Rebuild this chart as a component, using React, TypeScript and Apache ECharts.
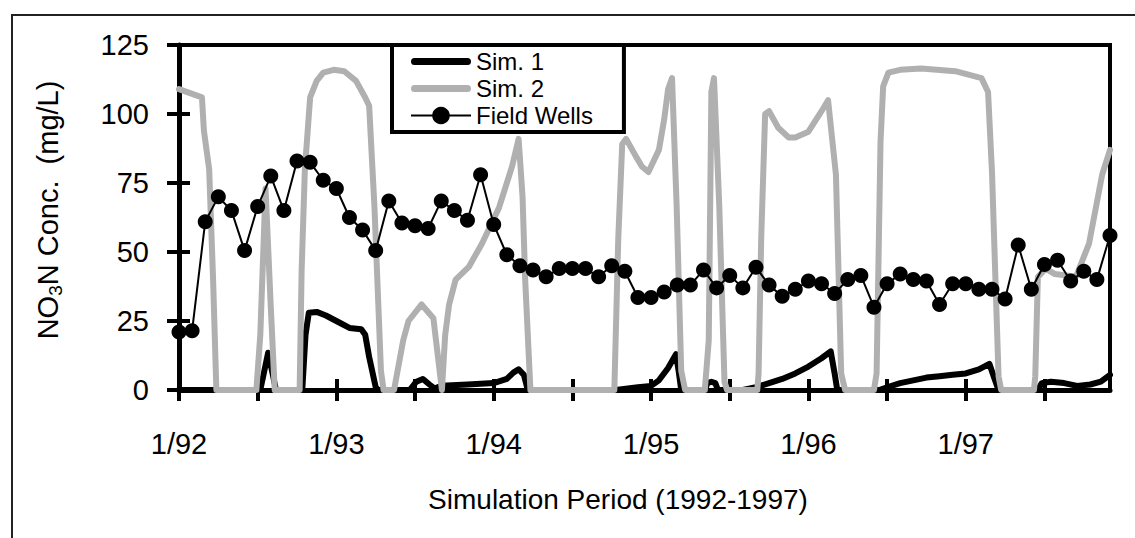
import React, { useEffect, useRef } from "react";
import * as echarts from "echarts";

// x values are months counted from January 1992 (0 = 1/92)
const xTickLabels = ["1/92", "1/93", "1/94", "1/95", "1/96", "1/97"];
const xLabelMonths = [0, 12, 24, 36, 48, 60];
const xTickMonths = [0, 6, 12, 18, 24, 30, 36, 42, 48, 54, 60, 66];

const seriesNames = ["Sim. 1", "Sim. 2", "Field Wells"];

// Field wells: one value per month, 1/92 .. 12/97
const fieldWells = [
  21, 21.5, 61, 70, 65, 50.5, 66.5, 77.5, 65, 83, 82.5, 76,
  73, 62.5, 58, 50.5, 68.5, 60.5, 59.5, 58.5, 68.5, 65, 61.5, 78,
  60, 49, 45, 43.5, 41, 44, 44, 44, 41, 45, 43, 33.5,
  33.5, 35.5, 38, 38, 43.5, 37, 41.5, 37, 44.5, 38, 34, 36.5,
  39.5, 38.5, 35, 40, 41.5, 30, 38.5, 42, 40, 39.5, 31, 38.5,
  38.5, 36.5, 36.5, 33, 52.5, 36.5, 45.5, 47, 39.5, 43, 40, 56,
];

// Simulation 1: [month, mg/L]
const sim1 = [
  [0, 0], [6.2, 0], [6.8, 13.5], [7.4, 0], [9.4, 0], [9.65, 20], [9.9, 28],
  [10.5, 28.3], [11.2, 27], [12.4, 24], [13.0, 22.5], [13.9, 22], [14.2, 20],
  [14.5, 12], [15.0, 1], [15.2, 0], [17.6, 0], [18.1, 3], [18.6, 4], [19.1, 2],
  [19.5, 0.5], [20.0, 1.5], [22, 2], [24, 2.5], [25, 4], [25.5, 6.3], [25.9, 7.5],
  [26.3, 5.5], [26.6, 0], [33.3, 0], [35, 1], [36, 1.5], [36.6, 3.5], [37.3, 8],
  [37.9, 13], [38.1, 7], [38.3, 0], [40.1, 0], [40.3, 2.5], [40.6, 3], [40.9, 2.5],
  [41.1, 0], [43, 0], [44, 1], [45, 2.5], [46, 4], [47, 6], [48, 8.5], [49, 11.5],
  [49.7, 14], [50.0, 6], [50.2, 0], [53.4, 0], [54, 1], [55, 2.5], [56, 3.5],
  [57, 4.5], [58, 5], [59, 5.5], [60, 6], [61, 7.5], [61.8, 9.5], [62.2, 4],
  [62.5, 0], [65.5, 0], [65.8, 2.5], [66.5, 3], [67.5, 2.5], [68.5, 1.5],
  [69.5, 2], [70.3, 3], [71, 5.5],
];

// Simulation 2: [month, mg/L]
const sim2 = [
  [0, 109], [1.75, 106], [1.9, 94], [2.3, 80], [2.6, 40], [2.85, 0], [5.9, 0],
  [6.2, 20], [6.6, 73], [7.0, 30], [7.3, 0], [9.2, 0], [9.35, 43], [9.6, 80],
  [10.0, 106], [10.5, 112], [11.0, 115], [11.8, 116], [12.6, 115.5], [13.5, 112],
  [14.2, 106], [14.5, 103], [14.9, 67], [15.4, 7], [15.6, 0], [16.4, 0],
  [17.1, 18], [17.5, 25], [18.5, 31], [19.4, 26], [19.8, 10], [20.05, 0],
  [20.3, 20], [20.6, 31], [21.1, 40], [22.1, 44.6], [23.1, 53], [24.4, 66],
  [25.4, 81], [25.9, 91], [26.2, 70], [26.4, 40], [26.8, 0], [33.2, 0],
  [33.5, 55], [33.8, 89], [34.1, 91], [34.8, 85], [35.3, 81], [35.8, 79],
  [36.6, 87], [37.0, 98], [37.3, 109], [37.6, 113], [37.95, 67], [38.3, 7],
  [38.6, 0], [40.1, 0], [40.4, 18], [40.6, 108], [40.8, 113], [41.2, 67],
  [41.6, 3], [41.8, 0], [44.1, 0], [44.2, 6], [44.4, 55], [44.7, 100], [45.0, 101],
  [45.7, 95], [46.5, 91.5], [47.0, 91.5], [48.0, 93.6], [49.0, 101], [49.5, 105],
  [50.1, 78], [50.5, 6], [50.8, 0], [53.0, 0], [53.2, 6], [53.5, 90], [53.7, 110],
  [54.1, 115], [55, 116], [56.6, 116.5], [59.2, 115.5], [61.2, 113], [61.7, 108],
  [62.0, 79], [62.5, 5], [62.7, 0], [65.2, 0], [65.3, 5], [65.5, 41], [66.1, 44],
  [66.8, 42], [68.4, 41], [69.4, 53], [70.4, 78], [71, 87],
];

const FONT = "'Liberation Sans', Arial, Helvetica, sans-serif";

export default function App() {
  const ref = useRef<HTMLDivElement>(null);
  useEffect(() => {
    const chart = echarts.init(ref.current as HTMLDivElement, null, { renderer: "svg" });
    const tickStyle = { color: "#000", width: 4 };
    const barIcon = "path://M3.5,0 H56.5 A3.5,3.5 0 0 1 56.5,7 H3.5 A3.5,3.5 0 0 1 3.5,0 Z";
    chart.setOption({
      animation: false,
      backgroundColor: "#fff",
      grid: {
        left: 179,
        right: 25,
        top: 45,
        bottom: 148,
        show: true,
        borderColor: "#000",
        borderWidth: 4,
        backgroundColor: "transparent",
      },
      legend: {
        orient: "vertical",
        left: 392,
        top: 45,
        padding: [3, 31, 3, 18],
        itemGap: 0,
        itemWidth: 60,
        itemHeight: 22,
        borderColor: "#000",
        borderWidth: 4,
        borderRadius: 0,
        backgroundColor: "#fff",
        textStyle: { fontSize: 24, lineHeight: 27, color: "#000", fontFamily: FONT },
        data: [
          { name: seriesNames[0], icon: barIcon },
          { name: seriesNames[1], icon: barIcon },
          { name: seriesNames[2] },
        ],
      },
      xAxis: [
        {
          type: "value",
          min: 0,
          max: 71,
          position: "bottom",
          axisLine: { show: true, onZero: false, lineStyle: { color: "#000", width: 5 } },
          axisTick: { show: true, inside: false, length: 11, lineStyle: tickStyle, customValues: xTickMonths },
          axisLabel: {
            customValues: xLabelMonths,
            formatter: (v: number) => xTickLabels[xLabelMonths.indexOf(Math.round(v))] ?? "",
            fontSize: 29,
            color: "#000",
            fontFamily: FONT,
            margin: 39,
          },
          splitLine: { show: false },
        },
        {
          type: "value",
          min: 0,
          max: 71,
          position: "bottom",
          axisLine: { show: false },
          axisTick: { show: true, inside: true, length: 11, lineStyle: tickStyle, customValues: xTickMonths },
          axisLabel: { show: false },
          splitLine: { show: false },
        },
      ],
      yAxis: [
        {
          type: "value",
          min: 0,
          max: 125,
          interval: 25,
          position: "left",
          axisLine: { show: true, onZero: false, lineStyle: { color: "#000", width: 5 } },
          axisTick: { show: true, inside: false, length: 12, lineStyle: tickStyle },
          axisLabel: { fontSize: 29, color: "#000", fontFamily: FONT, margin: 30, padding: [9, 0, 0, 0] },
          splitLine: { show: false },
        },
        {
          type: "value",
          min: 0,
          max: 125,
          interval: 25,
          position: "left",
          axisLine: { show: false },
          axisTick: { show: true, inside: true, length: 11, lineStyle: tickStyle },
          axisLabel: { show: false },
          splitLine: { show: false },
        },
      ],
      series: [
        {
          name: seriesNames[0],
          type: "line",
          data: sim1,
          symbol: "none",
          showSymbol: false,
          clip: false,
          color: "#000",
          lineStyle: { color: "#000", width: 6, cap: "round", join: "round" },
          z: 3,
        },
        {
          name: seriesNames[1],
          type: "line",
          data: sim2,
          symbol: "none",
          showSymbol: false,
          clip: false,
          color: "#b0b0b0",
          lineStyle: { color: "#b0b0b0", width: 6, cap: "round", join: "round" },
          z: 4,
        },
        {
          name: seriesNames[2],
          type: "line",
          data: fieldWells.map((v, i) => [i, v]),
          symbol: "circle",
          symbolSize: 15,
          clip: false,
          color: "#000",
          lineStyle: { color: "#000", width: 2 },
          itemStyle: { color: "#000" },
          z: 5,
        },
      ],
      graphic: [
        {
          type: "rect",
          silent: true,
          shape: { x: 12, y: 15, width: 1400, height: 800 },
          style: { fill: "none", stroke: "#222", lineWidth: 2 },
        },
        {
          type: "text",
          silent: true,
          x: 48,
          y: 210,
          rotation: Math.PI / 2,
          style: {
            text: "{a|NO}{s|3}{a|N Conc.  (mg/L)}",
            align: "center",
            verticalAlign: "middle",
            fill: "#000",
            rich: {
              a: { fontSize: 29, fontFamily: FONT, fill: "#000", lineHeight: 34 },
              s: { fontSize: 19, fontFamily: FONT, fill: "#000", lineHeight: 34, padding: [14, 0, 0, 0] },
            },
          },
        },
        {
          type: "text",
          silent: true,
          x: 618,
          y: 499,
          style: {
            text: "Simulation Period (1992-1997)",
            font: `28px ${FONT}`,
            align: "center",
            verticalAlign: "middle",
            fill: "#000",
          },
        },
      ],
    });
    return () => chart.dispose();
  }, []);
  return (
    <div
      ref={ref}
      style={{ position: "fixed", left: 0, top: 0, width: 1135, height: 538, background: "#fff" }}
    />
  );
}
